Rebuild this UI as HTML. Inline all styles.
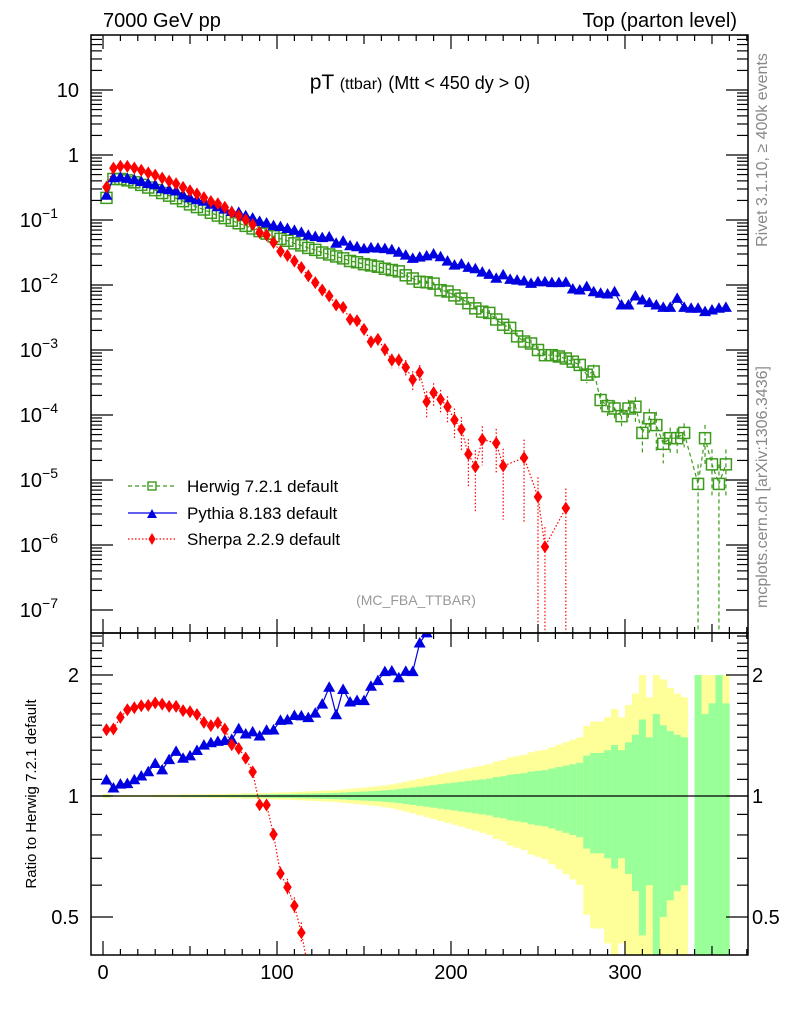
<!DOCTYPE html>
<html><head><meta charset="utf-8"><style>
html,body{margin:0;padding:0;background:#fff;overflow:hidden;width:786px;height:1024px;}
svg{display:block;font-family:"Liberation Sans",Arial,sans-serif;}
</style></head><body>
<svg id="chart" xmlns="http://www.w3.org/2000/svg" width="786" height="1024" viewBox="0 0 786 1024">
<defs>
<clipPath id="clipMain"><rect x="91" y="35" width="657" height="598"/></clipPath>
<clipPath id="clipRatio"><rect x="91" y="633" width="657" height="322"/></clipPath>
</defs>
<rect x="0" y="0" width="786" height="1024" fill="#fff"/>
<text x="103" y="27" font-size="20">7000 GeV pp</text>
<text x="737" y="27" font-size="20" text-anchor="end">Top (parton level)</text>
<text x="420" y="89" font-size="21" text-anchor="middle">pT <tspan font-size="16">(ttbar)</tspan> <tspan font-size="18">(Mtt &lt; 450 dy &gt; 0)</tspan></text>
<text transform="translate(767,150) rotate(-90)" font-size="16" fill="#888" text-anchor="middle">Rivet 3.1.10, ≥ 400k events</text>
<text transform="translate(767,487) rotate(-90)" font-size="16" fill="#888" text-anchor="middle">mcplots.cern.ch [arXiv:1306.3436]</text>
<text x="416" y="605" font-size="14" fill="#999" text-anchor="middle">(MC_FBA_TTBAR)</text>
<text transform="translate(36,794) rotate(-90)" font-size="15" text-anchor="middle">Ratio to Herwig 7.2.1 default</text>
<g id="bands" clip-path="url(#clipRatio)"></g>
<g id="marks"></g>
<g id="axes"></g>
<g>
 <g>
  <line x1="128" y1="486" x2="177" y2="486" stroke="#3c9a1c" stroke-width="1.3" stroke-dasharray="4,3"/>
  <rect x="148" y="482" width="8" height="8" fill="none" stroke="#3c9a1c" stroke-width="1.4"/>
  <text x="187" y="492" font-size="17">Herwig 7.2.1 default</text>
 </g>
 <g>
  <line x1="128" y1="513" x2="177" y2="513" stroke="#0000e0" stroke-width="1.3"/>
  <polygon points="147,518 157,518 152,509" fill="#0000e0"/>
  <text x="187" y="519" font-size="17">Pythia 8.183 default</text>
 </g>
 <g>
  <line x1="128" y1="539" x2="177" y2="539" stroke="#ff0000" stroke-width="1.3" stroke-dasharray="1.5,2"/>
  <polygon points="152,533 155.5,539 152,545 148.5,539" fill="#ff0000"/>
  <text x="187" y="545" font-size="17">Sherpa 2.2.9 default</text>
 </g>
</g>
</svg>
<script>
const ptCenters = [];
for (let i = 0; i < 90; i++) ptCenters.push(2 + 4 * i);
const herwig = [0.219,0.427,0.427,0.407,0.380,0.347,0.316,0.288,0.260,0.237,0.216,0.195,0.174,0.158,0.145,0.129,0.117,0.107,0.0977,0.0891,0.0813,0.0741,0.0676,0.0617,0.0562,0.0513,0.0479,0.0437,0.0407,0.0372,0.0347,0.0316,0.0295,0.0275,
0.0257,0.0234,0.0224,0.0209,0.0200,0.0191,0.0178,0.0170,0.0162,0.0141,0.0126,0.0112,
0.0110,0.0105,0.00832,0.00794,0.00692,0.00617,0.00525,0.00437,0.00389,0.00372,0.00295,0.00245,0.00219,0.00162,0.00135,0.00126,0.00100,0.000832,0.000832,0.000794,0.000741,0.000661,0.000589,0.000417,0.000468,
1.70e-4,1.37e-4,1.26e-4,9.6e-5,1.26e-4,1.34e-4,5.3e-5,8.9e-5,7.0e-5,3.6e-5,4.4e-5,4.4e-5,5.3e-5,null,8.7e-6,4.4e-5,1.74e-5,8.7e-6,1.74e-5];
const herwigErr = [0.006,0.003,0.003,0.003,0.003,0.003,0.003,0.004,0.004,0.004,0.004,0.005,0.005,0.005,0.005,0.006,0.006,
0.006,0.007,0.007,0.008,0.008,0.009,0.009,0.010,0.011,0.011,0.012,0.013,0.014,0.015,0.016,0.017,0.018,
0.02,0.022,0.024,0.026,0.028,0.03,0.033,0.036,0.04,0.045,0.05,0.055,
0.06,0.065,0.07,0.075,0.08,0.085,0.09,0.095,0.10,0.105,0.115,0.12,0.13,
0.135,0.14,0.15,0.155,0.16,0.17,0.18,0.19,0.2,0.21,0.26,0.28,
0.28,0.30,0.34,0.30,0.36,0.42,0.55,0.40,0.60,0.50,0.45,0.42,0.40,
0,1.0,0.6,0.7,1.0,0.7];
const pythiaErr = [0.006,0.004,0.004,0.004,0.004,0.004,0.005,0.005,0.005,0.006,0.006,0.006,0.007,0.007,0.008,0.008,0.009,
0.009,0.01,0.01,0.011,0.011,0.012,0.012,0.013,0.013,0.014,0.014,0.015,0.015,0.016,0.016,0.017,0.017,
0.018,0.018,0.019,0.019,0.02,0.02,0.021,0.021,0.022,0.022,0.023,0.023,
0.024,0.024,0.025,0.025,0.026,0.026,0.027,0.027,0.028,0.028,0.029,0.029,0.03,
0.03,0.031,0.031,0.032,0.032,0.033,0.033,0.034,0.034,0.035,0.035,0.036,
0.036,0.037,0.037,0.038,0.038,0.039,0.039,0.04,0.04,0.041,0.041,0.042,0.042,
0.043,0.043,0.044,0.044,0.045,0.045];
const pythia = [0.240,0.447,0.457,0.437,0.417,0.389,0.363,0.347,0.302,0.292,0.279,0.242,0.219,0.205,0.194,0.175,0.160,0.147,0.135,0.131,0.116,0.107,0.0953,0.0899,0.0820,0.0791,0.0741,0.0693,0.0644,0.0583,0.0558,0.0535,0.0550,0.0438,
0.0473,0.0401,0.0387,0.0361,0.0375,0.0370,0.0363,0.0348,0.0319,0.0288,0.0257,0.0269,
0.0280,0.0300,0.0272,0.0233,0.0202,0.0210,0.0187,0.0178,0.0158,0.0146,0.0127,0.0143,0.0122,0.0119,0.0115,0.0106,0.0112,0.0112,0.0109,0.0109,0.0110,0.00867,0.00838,0.00942,0.00789,0.00745,0.00728,0.00789,0.00492,0.00492,0.00678,0.00587,0.00535,0.00492,0.00453,0.00453,0.00624,0.00453,0.00438,0.00438,0.00389,0.00412,0.00438,0.00453];
const sherpa = [0.320,0.627,0.670,0.667,0.630,0.582,0.531,0.491,0.440,0.396,0.361,0.318,0.282,0.252,0.221,0.193,0.178,0.157,0.131,0.117,0.101,0.0851,0.0643,0.0586,0.0451,0.0329,0.0284,0.0233,0.0186,
0.0138,0.0109,0.00838,0.00678,0.00492,
0.00453,0.00296,0.00282,0.00208,0.00134,0.00146,0.00102,7.0e-4,7.0e-4,5.4e-4,3.5e-4,4.5e-4,1.6e-4,2.2e-4,1.74e-4,1.34e-4,8.4e-5,6.0e-5,2.5e-5,1.6e-5,4.2e-5,
null,3.7e-5,1.64e-5,null,null,2.2e-5,null,5.5e-6,9.4e-7,null,null,3.7e-6,
null,null,null,null,null,null,null,null,null,null,null,null,null,null,null,null,null,null,null,null,null,null,null];
const sherpaErr = [0.01,0.01,0.01,0.01,0.01,0.01,0.01,0.01,0.01,0.01,0.01,0.01,0.01,0.01,0.01,0.01,0.015,0.015,0.02,0.02,0.02,0.025,0.03,0.03,0.035,0.04,0.05,0.05,0.06,
0.07,0.08,0.09,0.1,0.12,
0.13,0.15,0.15,0.18,0.2,0.2,0.22,0.25,0.25,0.3,0.35,0.3,0.45,0.4,0.4,0.45,0.5,0.55,0.7,0.8,0.6,
0,0.65,0.85,0,0,0.9,0,1,1,0,0,1,
0,0,0,0,0,0,0,0,0,0,0,0,0,0,0,0,0,0,0,0,0,0,0];
const xTickValues = [0,100,200,300];
const mainTickExps = [-7,-6,-5,-4,-3,-2,-1,0,1];
const ratioTickLabels = [0.5,1,2];

const NS = "http://www.w3.org/2000/svg";
const X0 = 91, X1 = 748, XMIN = -6.9, XMAX = 370.7;
function xs(v){ return X0 + (v - XMIN) / (XMAX - XMIN) * (X1 - X0); }
function ym(v){ return 610 - 65 * (Math.log10(v) + 7); }
function yr(r){ return 796 - 121 * Math.log2(r); }
const MT = 35, MB = 633, RT = 633, RB = 955;
function mk(tag, attrs, parent){
  const e = document.createElementNS(NS, tag);
  for (const k in attrs) e.setAttribute(k, attrs[k]);
  parent.appendChild(e); return e;
}
const bands = document.getElementById('bands');
const marks = document.getElementById('marks');
const axes = document.getElementById('axes');

const hw = 2;
for (let i = 0; i < ptCenters.length; i++) {
  if (herwig[i] === null) continue;
  const xa = xs(ptCenters[i] - hw), xb = xs(ptCenters[i] + hw);
  const ey = Math.min(herwigErr[i] * 1.9, 0.999), eg = Math.min(herwigErr[i], 0.999);
  const ry = mk('rect', {x: xa, y: yr(1 + ey), width: xb - xa + 0.3, height: yr(1 - ey) - yr(1 + ey), fill: '#ffff99'}, bands);
  
  
  const rg = mk('rect', {x: xa, y: yr(1 + eg), width: xb - xa + 0.3, height: yr(1 - eg) - yr(1 + eg), fill: '#99ff99'}, bands);
  
  
}
const one = mk('line', {x1: X0, x2: X1, y1: yr(1), y2: yr(1), stroke: '#000', 'stroke-width': 1.2}, axes);



function drawSeries(vals, errs, color, dash, marker, name, isRatio){
  const g = mk('g', {'clip-path': isRatio ? 'url(#clipRatio)' : 'url(#clipMain)'}, marks);
  
  
  const yf = isRatio ? yr : ym;
  const bottom = isRatio ? RB + 10 : MB + 10;
  const pv = [];
  for (let i = 0; i < ptCenters.length; i++) {
    let v = vals[i];
    if (v === null) continue;
    if (isRatio) { if (herwig[i] === null) continue; v = v / herwig[i]; }
    pv.push([xs(ptCenters[i]), yf(v), v, errs[i]]);
  }
  const d = pv.map((p, k) => (k ? 'L' : 'M') + p[0].toFixed(1) + ',' + p[1].toFixed(1)).join(' ');
  const path = mk('path', {d: d, fill: 'none', stroke: color, 'stroke-width': 1.2, 'stroke-dasharray': dash}, g);
  
  
  pv.forEach(p => {
    const [x, y, v, e] = p;
    const yTop = yf(v * (1 + e));
    const yBot = e >= 0.999 ? bottom : yf(v * (1 - e));
    if (Math.abs(yBot - yTop) > 3) {
      const eb = mk('line', {x1: x, x2: x, y1: yTop, y2: yBot, stroke: color, 'stroke-width': 1.2, 'stroke-dasharray': dash}, g);
      
      
    }
    let m;
    if (marker === 'square') m = mk('rect', {x: x - 5.5, y: y - 5.5, width: 11, height: 11, fill: 'none', stroke: color, 'stroke-width': 1.5}, g);
    else if (marker === 'tri') m = mk('polygon', {points: `${x-6},${y+4.5} ${x+6},${y+4.5} ${x},${y-6}`, fill: color}, g);
    else m = mk('polygon', {points: `${x},${y-6.5} ${x+4.3},${y} ${x},${y+6.5} ${x-4.3},${y}`, fill: color}, g);
    
    
  });
}
drawSeries(herwig, herwigErr, '#3c9a1c', '4,3', 'square', 'herwig', false);
drawSeries(pythia, pythiaErr, '#0000e0', 'none', 'tri', 'pythia', false);
drawSeries(sherpa, sherpaErr, '#ff0000', '1.5,2', 'diamond', 'sherpa', false);
drawSeries(pythia, pythiaErr, '#0000e0', 'none', 'tri', 'pythia', true);
drawSeries(sherpa, sherpaErr, '#ff0000', '1.5,2', 'diamond', 'sherpa', true);

const fm = mk('rect', {x: X0, y: MT, width: X1 - X0, height: MB - MT, fill: 'none', stroke: '#000', 'stroke-width': 1.5}, axes);


const fr = mk('rect', {x: X0, y: RT, width: X1 - X0, height: RB - RT, fill: 'none', stroke: '#000', 'stroke-width': 1.5}, axes);



function tick(x1, y1, x2, y2, name){
  const t = mk('line', {x1: x1, y1: y1, x2: x2, y2: y2, stroke: '#000', 'stroke-width': 1.2}, axes);
  
  
}
for (let v = 0; v <= 370; v += 10) {
  const x = xs(v);
  const L = v % 100 === 0 ? 14 : (v % 50 === 0 ? 9 : 6);
  tick(x, MB, x, MB - L, 'x-tick'); tick(x, MT, x, MT + L, 'x-tick');
  tick(x, RB, x, RB - L, 'x-tick'); tick(x, RT, x, RT + L, 'x-tick');
}
xTickValues.forEach(v => {
  const t = mk('text', {x: xs(v), y: 979, 'font-size': 20, 'text-anchor': 'middle'}, axes);
  t.textContent = String(v);
  
  
});
mainTickExps.forEach(e => {
  for (let m = 1; m <= 9; m++) {
    const v = m * Math.pow(10, e);
    const y = ym(v);
    if (y < MT || y > MB) continue;
    const L = m === 1 ? 22 : 11;
    tick(X0, y, X0 + L, y, 'main-y-tick'); tick(X1, y, X1 - L, y, 'main-y-tick');
  }
  const y = ym(Math.pow(10, e));
  const t = mk('text', {x: 79, y: y + 7, 'font-size': 20, 'text-anchor': 'end'}, axes);
  
  
  if (e === 0) t.textContent = '1';
  else if (e === 1) t.textContent = '10';
  else {
    t.setAttribute('x', 58);
    t.textContent = '10';
    const s = mk('tspan', {'font-size': 14, dy: -9}, t);
    s.textContent = '\u2212' + (-e);
  }
});
for (let k = 5; k <= 25; k++) {
  const r = k / 10;
  const y = yr(r);
  if (y < RT || y > RB) continue;
  const L = (k === 5 || k === 10 || k === 20) ? 22 : 11;
  tick(X0, y, X0 + L, y, 'ratio-y-tick'); tick(X1, y, X1 - L, y, 'ratio-y-tick');
}
ratioTickLabels.forEach(r => {
  const y = yr(r) + 7;
  const a = mk('text', {x: 79, y: y, 'font-size': 20, 'text-anchor': 'end'}, axes);
  a.textContent = String(r);
  
  
  const b = mk('text', {x: 752, y: y, 'font-size': 20}, axes);
  b.textContent = String(r);
  
  
});
</script>
</body></html>
